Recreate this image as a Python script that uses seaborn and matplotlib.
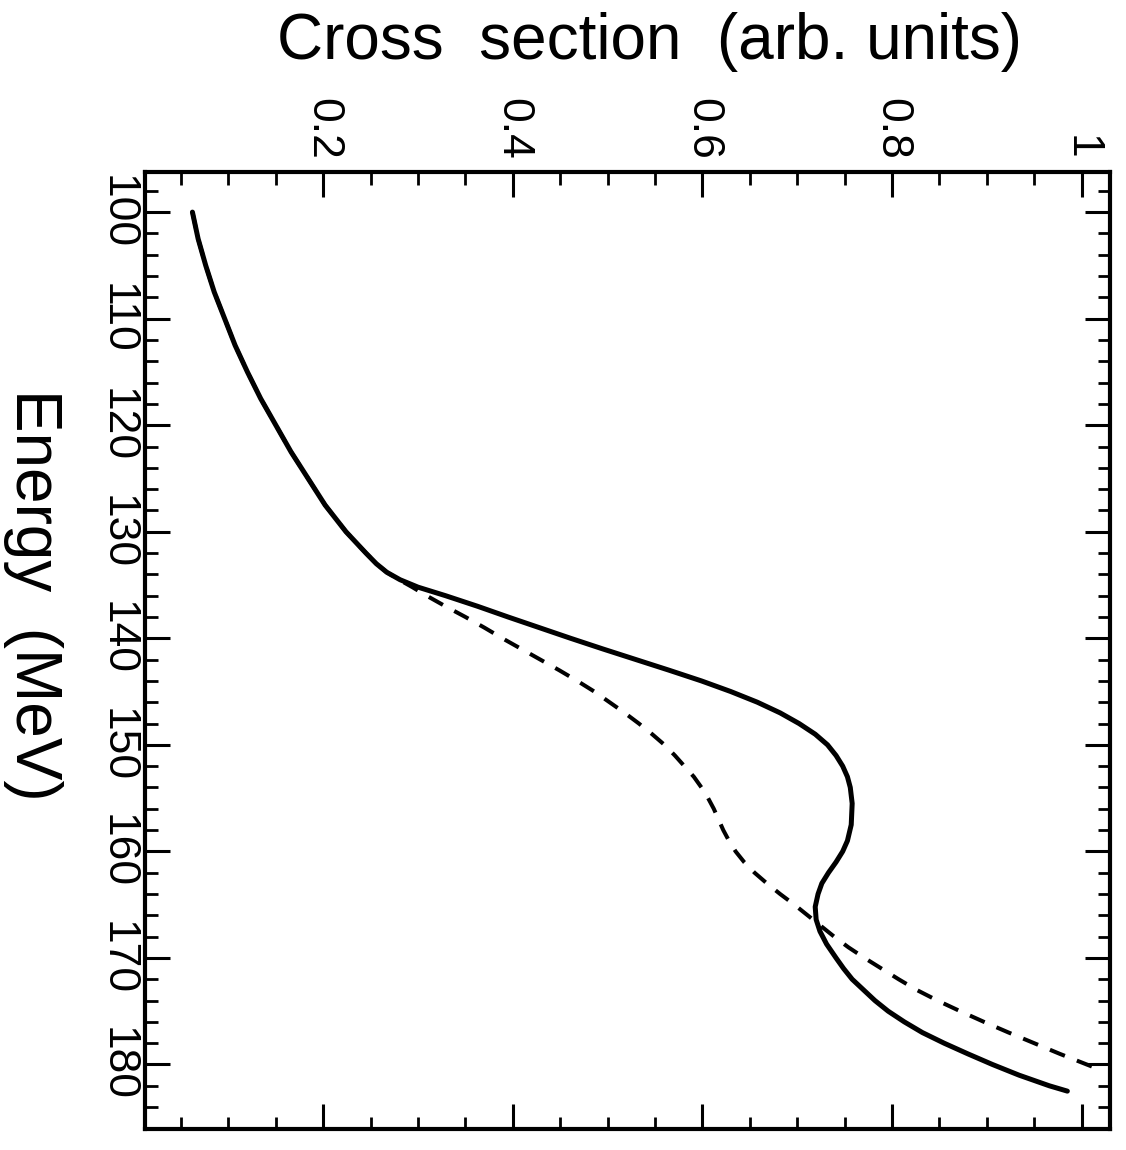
# Cross section vs energy, rotated layout (energy runs down, cross section across)
import numpy as np
import pandas as pd
import matplotlib
matplotlib.use("Agg")
import matplotlib.pyplot as plt
from matplotlib.ticker import MultipleLocator, FixedLocator, FixedFormatter
import seaborn as sns

sns.set_style("ticks")
plt.rcParams['font.family'] = ['Liberation Sans', 'DejaVu Sans']
plt.rcParams['text.color'] = 'black'
plt.rcParams['axes.labelcolor'] = 'black'
plt.rcParams['xtick.color'] = 'black'
plt.rcParams['ytick.color'] = 'black'

# --- data ---
# common part of both curves (energy in MeV, cross section in arb. units)
energy_common = [100.0, 102.5, 105.0, 107.5, 110.0, 112.5, 115.0, 117.5, 120.0,
                 122.5, 125.0, 127.5, 130.0, 132.0, 133.0, 133.8]
xs_common = [0.062, 0.068, 0.076, 0.085, 0.096, 0.107, 0.120, 0.134, 0.150,
             0.166, 0.184, 0.202, 0.224, 0.245, 0.256, 0.267]

# solid curve after the split
energy_solid = [134.5, 135.2, 136.0, 137.0, 138.0, 139.0, 140.0, 141.0, 142.0,
                143.0, 144.0, 145.0, 146.0, 147.0, 148.0, 149.0, 150.0, 151.0,
                152.0, 153.0, 154.0, 155.5, 157.5, 159.0, 160.0, 161.0, 162.0,
                163.0, 164.0, 165.2, 166.4, 167.5, 168.7, 170.0, 171.0, 172.0,
                173.0, 174.0, 175.0, 176.0, 177.0, 178.0, 179.0, 180.0, 181.0,
                182.0, 182.5]
xs_solid = [0.281, 0.300, 0.329, 0.363, 0.395, 0.428, 0.461, 0.495, 0.530,
            0.565, 0.599, 0.630, 0.658, 0.682, 0.702, 0.719, 0.732, 0.741,
            0.748, 0.753, 0.756, 0.758, 0.757, 0.753, 0.748, 0.741, 0.733,
            0.726, 0.722, 0.719, 0.720, 0.724, 0.731, 0.741, 0.749, 0.758,
            0.770, 0.782, 0.796, 0.813, 0.832, 0.855, 0.880, 0.906, 0.934,
            0.966, 0.985]

# dashed curve after the split
energy_dashed = [134.5, 135.2, 136.0, 137.0, 138.0, 139.0, 140.0, 141.0, 142.0,
                 143.0, 144.0, 145.0, 146.0, 147.0, 148.0, 149.0, 150.0, 151.0,
                 152.0, 153.0, 154.0, 155.0, 156.0, 157.0, 158.0, 159.0, 160.0,
                 161.0, 162.0, 163.0, 164.0, 165.0, 166.0, 167.0, 168.0, 169.0,
                 170.0, 171.0, 172.0, 173.0, 174.0, 175.0, 176.0, 177.0, 178.0,
                 179.0, 180.3]
xs_dashed = [0.280, 0.294, 0.309, 0.329, 0.350, 0.370, 0.389, 0.409, 0.429,
             0.449, 0.468, 0.486, 0.502, 0.518, 0.533, 0.547, 0.560, 0.571,
             0.581, 0.591, 0.599, 0.606, 0.612, 0.617, 0.622, 0.628, 0.635,
             0.644, 0.655, 0.668, 0.682, 0.697, 0.711, 0.725, 0.739, 0.754,
             0.771, 0.789, 0.807, 0.826, 0.848, 0.872, 0.897, 0.923, 0.950,
             0.977, 1.014]

xs_ticks = [0.2, 0.4, 0.6, 0.8, 1.0]
xs_tick_labels = ['0.2', '0.4', '0.6', '0.8', '1']
energy_ticks = [100, 110, 120, 130, 140, 150, 160, 170, 180]

solid = pd.DataFrame({'energy': energy_common + energy_solid,
                      'xs': xs_common + xs_solid})
dashed = pd.DataFrame({'energy': energy_common + energy_dashed,
                       'xs': xs_common + xs_dashed})

# --- figure ---
fig = plt.figure(figsize=(11.26, 11.5), dpi=100)
ax = fig.add_axes([0.1288, 0.0183, 0.857, 0.832])

sns.lineplot(data=dashed, x='xs', y='energy', sort=False, estimator=None,
             color='black', lw=2.9, linestyle=(0, (4, 3.2)), ax=ax)
sns.lineplot(data=solid, x='xs', y='energy', sort=False, estimator=None,
             color='black', lw=3.6, ax=ax)

ax.set_xlim(0.012, 1.03)
ax.set_ylim(186.05, 96.25)

# ticks
ax.xaxis.set_major_locator(FixedLocator(xs_ticks))
ax.xaxis.set_major_formatter(FixedFormatter(xs_tick_labels))
ax.xaxis.set_minor_locator(MultipleLocator(0.05))
ax.yaxis.set_major_locator(FixedLocator(energy_ticks))
ax.yaxis.set_minor_locator(MultipleLocator(2))

ax.tick_params(axis='both', which='both', direction='in', top=True, bottom=True,
               left=True, right=True, color='black')
ax.tick_params(axis='both', which='major', length=18, width=2.2, labelsize=32)
ax.tick_params(axis='both', which='minor', length=9, width=2.0)
ax.tick_params(axis='x', labeltop=True, labelbottom=False, labelrotation=270, pad=9)
ax.tick_params(axis='y', labelleft=True, labelrotation=270, pad=5)
for lab in ax.get_yticklabels():
    lab.set_va('center')

for sp in ax.spines.values():
    sp.set_linewidth(3)
    sp.set_color('black')

# axis titles
ax.xaxis.set_label_position('top')
ax.set_xlabel('Cross  section  (arb. units)', fontsize=46, va='center')
ax.xaxis.set_label_coords(0.523, 1.136)
ax.set_ylabel('Energy  (MeV)', fontsize=46, rotation=270, va='center', ha='center')
ax.yaxis.set_label_coords(-0.116, 0.558)

ax.grid(False)
fig.savefig('out.png', dpi=100)
